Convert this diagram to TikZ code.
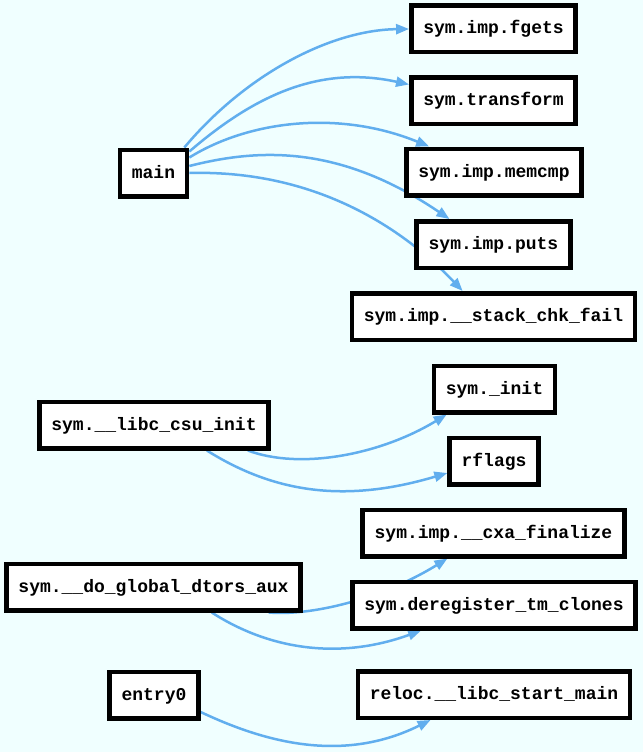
\documentclass[tikz,border=0pt]{standalone}
\usepackage{fontspec}
\setmonofont{Liberation Mono}
\usetikzlibrary{arrows.meta,backgrounds}
\definecolor{bgazure}{HTML}{F0FFFF}
\definecolor{edgeblue}{RGB}{97,174,238}
\tikzset{
  fn/.style={draw=black, fill=white, line width=4.5pt, rectangle,
    minimum height=46.5pt, inner xsep=12pt, inner ysep=0pt,
    text height=13pt, text depth=3pt,
    font=\ttfamily\bfseries\fontsize{18}{20}\selectfont},
  call/.style={draw=edgeblue, line width=2.5pt,
    -{Triangle[length=13pt,width=10pt]}}
}
\begin{document}
\begin{tikzpicture}[x=1pt,y=-1pt]
\useasboundingbox (0,0) rectangle (643,752);
% nodes
\node[fn] (main) at (153.5,173) {main};
\node[fn] (fgets) at (493.5,29) {sym.imp.fgets};
\node[fn] (transform) at (493.5,100.5) {sym.transform};
\node[fn] (memcmp) at (494,172) {sym.imp.memcmp};
\node[fn] (puts) at (493.5,244.5) {sym.imp.puts};
\node[fn] (stackchk) at (493.5,316.5) {sym.imp.\_\_stack\_chk\_fail};
\node[fn] (init) at (494.5,389) {sym.\_init};
\node[fn] (rflags) at (494,461) {rflags};
\node[fn] (cxa) at (493.5,533) {sym.imp.\_\_cxa\_finalize};
\node[fn] (dereg) at (494,605) {sym.deregister\_tm\_clones};
\node[fn] (reloc) at (494,694.5) {reloc.\_\_libc\_start\_main};
\node[fn] (csu) at (154,425) {sym.\_\_libc\_csu\_init};
\node[fn] (dtors) at (153.5,587) {sym.\_\_do\_global\_dtors\_aux};
\node[fn] (entry) at (154,695) {entry0};
% background and edges
\begin{scope}[on background layer]
\fill[bgazure] (0,0) rectangle (643,752);
\draw[call] ([xshift=-5pt]main.north east) .. controls (245,75) and (330,30) .. (fgets.west);
\draw[call] ([yshift=-4pt]main.north east) .. controls (255,95) and (320,65) .. ([yshift=16pt]transform.west);
\draw[call] ([yshift=-10pt]main.north east) .. controls (250,120) and (340,110) .. ([xshift=25pt]memcmp.north west);
\draw[call] ([yshift=7pt]main.east) .. controls (260,148) and (340,145) .. ([xshift=35pt]puts.north west);
\draw[call] (main.east) .. controls (300,170) and (390,215) .. ([xshift=113pt]stackchk.north west);
\draw[call] ([xshift=-23pt]csu.south east) .. controls (300,470) and (380,455) .. ([xshift=15pt]init.south west);
\draw[call] ([xshift=-64pt]csu.south east) .. controls (270,490) and (340,505) .. ([yshift=-12pt]rflags.west);
\draw[call] ([xshift=-34pt]dtors.south east) .. controls (310,616) and (380,600) .. ([xshift=87pt]cxa.south west);
\draw[call] ([xshift=-91pt]dtors.south east) .. controls (270,650) and (340,660) .. ([xshift=71pt]dereg.south west);
\draw[call] ([yshift=-17pt]entry.east) .. controls (260,740) and (340,765) .. ([xshift=75pt]reloc.south west);
\end{scope}
\end{tikzpicture}
\end{document}
